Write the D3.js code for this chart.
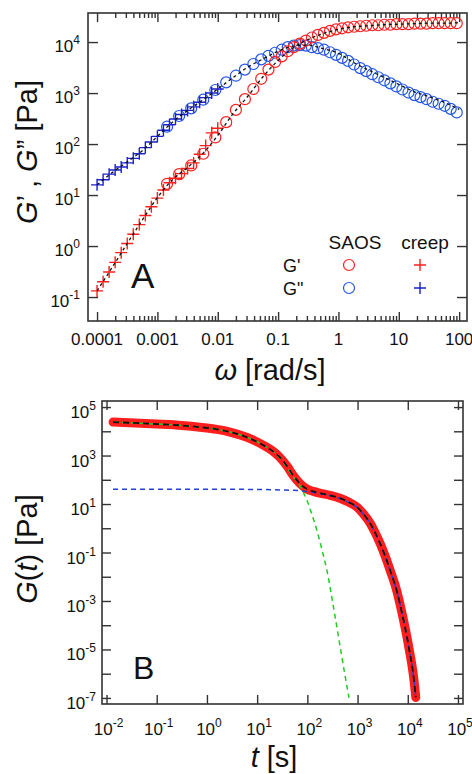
<!DOCTYPE html>
<meta charset="utf-8">
<style>
body { margin: 0; background: #fff; }
svg { display: block; font-family: "Liberation Sans", Arial, sans-serif; fill: #111; }
.frame { fill: none; stroke: #333; stroke-width: 1.6; }
.ax { color: #333; }
.ax line { stroke-width: 1.4; }
</style>
<svg width="472" height="774"></svg>
<script src="https://d3js.org/d3.v7.min.js"></script>
<script>

// ---- panel A : moduli vs frequency (values are log10) ----
var creepLogW = [-4.0,-3.9,-3.8,-3.7,-3.6,-3.5,-3.4,-3.3,-3.2,-3.1,-3.0,-2.9,-2.8,-2.7,-2.6,-2.5,-2.4,-2.3,-2.2,-2.1,-2.0];
var creepLogG1 = [-0.88,-0.70,-0.51,-0.32,-0.13,0.05,0.23,0.42,0.60,0.77,0.94,1.10,1.24,1.33,1.42,1.52,1.63,1.80,1.97,2.22,2.31];
var creepLogG2 = [1.20,1.30,1.41,1.49,1.55,1.63,1.72,1.81,1.93,2.04,2.15,2.27,2.38,2.49,2.58,2.66,2.73,2.82,2.91,3.00,3.08];

var saosLogW = [-2.84,-2.64,-2.44,-2.24,-2.04,-1.86,-1.70,-1.55,-1.41,-1.28,-1.16,-1.05,
  -0.94,-0.84,-0.74,-0.64,-0.54,-0.44,-0.34,-0.24,-0.14,-0.04,0.06,0.16,0.26,0.36,0.46,0.56,0.66,0.76,
  0.86,0.96,1.06,1.16,1.26,1.36,1.46,1.56,1.66,1.76,1.86,1.96];
var saosLogG1 = [1.22,1.41,1.58,1.81,2.13,2.43,2.67,2.88,3.08,3.28,3.46,3.61,
  3.72,3.82,3.90,3.97,4.03,4.09,4.14,4.18,4.22,4.25,4.27,4.29,4.30,4.31,4.32,4.33,4.33,4.34,
  4.34,4.35,4.35,4.35,4.36,4.36,4.36,4.37,4.37,4.37,4.37,4.37];
var saosLogG2 = [2.34,2.55,2.70,2.87,3.06,3.21,3.34,3.46,3.57,3.66,3.73,3.79,
  3.85,3.90,3.93,3.94,3.93,3.90,3.88,3.85,3.80,3.75,3.69,3.63,3.56,3.49,3.43,3.37,3.31,3.25,
  3.19,3.13,3.07,3.01,2.96,2.92,2.88,2.83,2.79,2.75,2.69,2.62];

var fitLogW = [-4.0,-3.75,-3.5,-3.25,-3.0,-2.75,-2.5,-2.25,-2.0,-1.75,-1.5,-1.25,-1.0,-0.75,-0.5,-0.25,0,0.25,0.5,0.75,1.0,1.25,1.5,1.75,2.0];
var fitLogG1 = [-0.88,-0.42,0.05,0.51,0.95,1.30,1.54,1.81,2.17,2.59,2.94,3.32,3.64,3.89,4.05,4.17,4.25,4.30,4.32,4.34,4.35,4.36,4.37,4.37,4.38];
var fitLogG2 = [1.20,1.44,1.65,1.87,2.15,2.43,2.66,2.86,3.08,3.30,3.51,3.67,3.82,3.92,3.94,3.87,3.78,3.60,3.45,3.31,3.17,3.03,2.93,2.82,2.68];

var wTicks = [1e-4,1e-3,1e-2,1e-1,1,10,100];
var wLabels = ["0.0001","0.001","0.01","0.1","1","10","100"];
var aYExp = [-1,0,1,2,3,4];

// ---- panel B : relaxation modulus (log10 values) ----
var relaxLogT = [-1.87,-1.0,-0.5,-0.14,0.2,0.46,0.8,1.12,1.3,1.45,1.6,1.71,1.85,1.99,2.12,2.25,2.45,2.65,2.82,2.99,3.12,3.25,3.35,3.45,3.55,3.65,3.77,3.88,4.02,4.12,4.16];
var relaxLogG = [4.38,4.30,4.24,4.17,4.08,3.97,3.75,3.43,3.20,2.93,2.55,2.20,1.85,1.62,1.52,1.45,1.36,1.24,1.08,0.87,0.58,0.21,-0.18,-0.63,-1.15,-1.74,-2.50,-3.45,-4.90,-6.20,-6.98];

var slowLogT = [-1.87,0,1.0,1.5,1.9,2.12,2.25,2.45,2.65,2.82,2.99,3.12,3.25,3.35,3.45,3.55,3.65,3.77,3.88,4.02,4.12,4.16];
var slowLogG = [1.61,1.61,1.60,1.58,1.54,1.48,1.43,1.35,1.23,1.07,0.86,0.57,0.20,-0.19,-0.64,-1.16,-1.75,-2.51,-3.46,-4.91,-6.21,-6.98];

var fastLogT = [-1.87,-1.0,-0.5,-0.14,0.2,0.46,0.8,1.12,1.3,1.45,1.6,1.71,1.79,1.89,1.99,2.09,2.19,2.29,2.39,2.52,2.65,2.74,2.83];
var fastLogG = [4.38,4.30,4.24,4.17,4.08,3.97,3.75,3.43,3.19,2.91,2.50,2.12,1.96,1.60,1.16,0.58,-0.08,-0.88,-1.74,-3.25,-4.85,-5.95,-7.0];

var bXExp = [-2,-1,0,1,2,3,4,5];
var bYExp = [-7,-6,-5,-4,-3,-2,-1,0,1,2,3,4,5];
var bYLabelExp = [-7,-5,-3,-1,1,3,5];

function pts(lx, ly) {
  return d3.zip(lx, ly).map(function(p) { return [Math.pow(10, p[0]), Math.pow(10, p[1])]; });
}

var svg = d3.select("svg");

var red = "#ff1e1e", blue = "#2456e6", dblue = "#1c22cc";

function powLabel(g, x, y, exp, anchor) {
  var t = g.append("text").attr("x", x).attr("y", y)
    .attr("text-anchor", anchor).attr("font-size", 17);
  t.append("tspan").text("10");
  t.append("tspan").attr("dy", -8).attr("font-size", 12).text(exp);
}

function noDomain(g) { g.select(".domain").remove(); }

// ================= panel A =================
var xA = d3.scaleLog().domain([Math.pow(10, -4.15), Math.pow(10, 2.13)]).range([88, 467]);
var yA = d3.scaleLog().domain([Math.pow(10, -1.47), Math.pow(10, 4.57)]).range([321, 13]);

var minorW = [];
wTicks.slice(0, -1).forEach(function(d) {
  d3.range(2, 10).forEach(function(k) { minorW.push(d * k); });
});

var gA = svg.append("g");

gA.append("g").attr("class", "ax").attr("transform", "translate(0,321)")
  .call(d3.axisBottom(xA).tickValues(wTicks).tickSize(-9).tickFormat("")).call(noDomain);
gA.append("g").attr("class", "ax").attr("transform", "translate(0,321)")
  .call(d3.axisBottom(xA).tickValues(minorW).tickSize(-5).tickFormat("")).call(noDomain);
gA.append("g").attr("class", "ax").attr("transform", "translate(0,13)")
  .call(d3.axisTop(xA).tickValues(wTicks).tickSize(-9).tickFormat("")).call(noDomain);
gA.append("g").attr("class", "ax").attr("transform", "translate(0,13)")
  .call(d3.axisTop(xA).tickValues(minorW).tickSize(-5).tickFormat("")).call(noDomain);
gA.append("g").attr("class", "ax").attr("transform", "translate(88,0)")
  .call(d3.axisLeft(yA).tickValues(aYExp.map(function(e) { return Math.pow(10, e); })).tickSize(-10).tickFormat("")).call(noDomain);
gA.append("g").attr("class", "ax").attr("transform", "translate(467,0)")
  .call(d3.axisRight(yA).tickValues(aYExp.map(function(e) { return Math.pow(10, e); })).tickSize(-10).tickFormat("")).call(noDomain);

gA.append("rect").attr("class", "frame").attr("x", 88).attr("y", 13).attr("width", 379).attr("height", 308);

wTicks.forEach(function(v, i) {
  gA.append("text").attr("x", xA(v)).attr("y", 345).attr("text-anchor", "middle")
    .attr("font-size", 17).text(wLabels[i]);
});
aYExp.forEach(function(e) {
  powLabel(gA, 80, yA(Math.pow(10, e)) + 10, e, "end");
});

// SAOS circles
var saos1 = pts(saosLogW, saosLogG1), saos2 = pts(saosLogW, saosLogG2);
gA.append("g").selectAll("circle").data(saos2).join("circle")
  .attr("cx", function(d) { return xA(d[0]); }).attr("cy", function(d) { return yA(d[1]); })
  .attr("r", 5.5).attr("fill", "none").attr("stroke", blue).attr("stroke-width", 1.2);
gA.append("g").selectAll("circle").data(saos1).join("circle")
  .attr("cx", function(d) { return xA(d[0]); }).attr("cy", function(d) { return yA(d[1]); })
  .attr("r", 5.5).attr("fill", "none").attr("stroke", red).attr("stroke-width", 1.2);

// creep crosses
var plus = "M-6,0H6M0,-6V6";
gA.append("g").selectAll("path").data(pts(creepLogW, creepLogG2)).join("path")
  .attr("transform", function(d) { return "translate(" + xA(d[0]) + "," + yA(d[1]) + ")"; })
  .attr("d", plus).attr("stroke", dblue).attr("stroke-width", 1.4);
gA.append("g").selectAll("path").data(pts(creepLogW, creepLogG1)).join("path")
  .attr("transform", function(d) { return "translate(" + xA(d[0]) + "," + yA(d[1]) + ")"; })
  .attr("d", plus).attr("stroke", red).attr("stroke-width", 1.4);

// fit lines
var lineA = d3.line().curve(d3.curveMonotoneX)
  .x(function(d) { return xA(d[0]); }).y(function(d) { return yA(d[1]); });
[fitLogG1, fitLogG2].forEach(function(gs) {
  gA.append("path").datum(pts(fitLogW, gs)).attr("d", lineA)
    .attr("fill", "none").attr("stroke", "#111").attr("stroke-width", 1.3)
    .attr("stroke-dasharray", "3,3");
});

// legend
gA.append("text").attr("x", 355).attr("y", 249).attr("text-anchor", "middle").attr("font-size", 19).text("SAOS");
gA.append("text").attr("x", 425).attr("y", 249).attr("text-anchor", "middle").attr("font-size", 19).text("creep");
gA.append("text").attr("x", 283).attr("y", 272).attr("font-size", 18).text("G'");
gA.append("text").attr("x", 283).attr("y", 295).attr("font-size", 18).text("G\"");
gA.append("circle").attr("cx", 349).attr("cy", 265).attr("r", 5.5).attr("fill", "none").attr("stroke", red).attr("stroke-width", 1.2);
gA.append("circle").attr("cx", 349).attr("cy", 288).attr("r", 5.5).attr("fill", "none").attr("stroke", blue).attr("stroke-width", 1.2);
gA.append("path").attr("transform", "translate(420,265)").attr("d", plus).attr("stroke", red).attr("stroke-width", 1.4);
gA.append("path").attr("transform", "translate(420,288)").attr("d", plus).attr("stroke", dblue).attr("stroke-width", 1.4);

gA.append("text").attr("x", 131).attr("y", 288).attr("font-size", 35).text("A");

// titles
var tA = gA.append("text").attr("transform", "translate(37,152) rotate(-90)")
  .attr("text-anchor", "middle").attr("font-size", 29);
tA.append("tspan").attr("font-style", "italic").text("G");
tA.append("tspan").text("’ , ");
tA.append("tspan").attr("font-style", "italic").text("G");
tA.append("tspan").text("” [Pa]");

var xtA = gA.append("text").attr("x", 270).attr("y", 380).attr("text-anchor", "middle").attr("font-size", 29);
xtA.append("tspan").attr("font-style", "italic").text("ω");
xtA.append("tspan").text(" [rad/s]");

// ================= panel B =================
var xB = d3.scaleLog().domain([Math.pow(10, -2.09), Math.pow(10, 5.1)]).range([102, 463]);
var yB = d3.scaleLog().domain([Math.pow(10, -7.25), Math.pow(10, 5.25)]).range([704, 401]);

var gB = svg.append("g");
var bXT = bXExp.map(function(e) { return Math.pow(10, e); });
var bYT = bYExp.map(function(e) { return Math.pow(10, e); });

gB.append("g").attr("class", "ax").attr("transform", "translate(0,704)")
  .call(d3.axisBottom(xB).tickValues(bXT).tickSize(-9).tickFormat("")).call(noDomain);
gB.append("g").attr("class", "ax").attr("transform", "translate(0,401)")
  .call(d3.axisTop(xB).tickValues(bXT).tickSize(-9).tickFormat("")).call(noDomain);
gB.append("g").attr("class", "ax").attr("transform", "translate(102,0)")
  .call(d3.axisLeft(yB).tickValues(bYT).tickSize(-9).tickFormat("")).call(noDomain);
gB.append("g").attr("class", "ax").attr("transform", "translate(463,0)")
  .call(d3.axisRight(yB).tickValues(bYT).tickSize(-9).tickFormat("")).call(noDomain);

gB.append("rect").attr("class", "frame").attr("x", 102).attr("y", 401).attr("width", 361).attr("height", 303);

bXExp.forEach(function(e) {
  powLabel(gB, xB(Math.pow(10, e)) + 2, 735, e, "middle");
});
bYLabelExp.forEach(function(e) {
  powLabel(gB, 96, yB(Math.pow(10, e)) + 11, e, "end");
});

var lineB = d3.line().curve(d3.curveMonotoneX)
  .x(function(d) { return xB(d[0]); }).y(function(d) { return yB(d[1]); });

var relax = pts(relaxLogT, relaxLogG);
gB.append("path").datum(relax).attr("d", lineB).attr("fill", "none")
  .attr("stroke", red).attr("stroke-width", 9).attr("stroke-linecap", "round").attr("stroke-linejoin", "round");
gB.append("path").datum(pts(fastLogT, fastLogG)).attr("d", lineB).attr("fill", "none")
  .attr("stroke", "#22cc22").attr("stroke-width", 1.5).attr("stroke-dasharray", "5,4");
gB.append("path").datum(pts(slowLogT, slowLogG)).attr("d", lineB).attr("fill", "none")
  .attr("stroke", "#2040d8").attr("stroke-width", 1.5).attr("stroke-dasharray", "5,4");
gB.append("path").datum(relax).attr("d", lineB).attr("fill", "none")
  .attr("stroke", "#111").attr("stroke-width", 1.8).attr("stroke-dasharray", "6,4");

gB.append("text").attr("x", 133).attr("y", 679).attr("font-size", 32).text("B");

var tB = gB.append("text").attr("transform", "translate(37,549) rotate(-90)")
  .attr("text-anchor", "middle").attr("font-size", 29);
tB.append("tspan").attr("font-style", "italic").text("G");
tB.append("tspan").text("(");
tB.append("tspan").attr("font-style", "italic").text("t");
tB.append("tspan").text(") [Pa]");

var xtB = gB.append("text").attr("x", 274).attr("y", 767).attr("text-anchor", "middle").attr("font-size", 29);
xtB.append("tspan").attr("font-style", "italic").text("t");
xtB.append("tspan").text(" [s]");

</script>
